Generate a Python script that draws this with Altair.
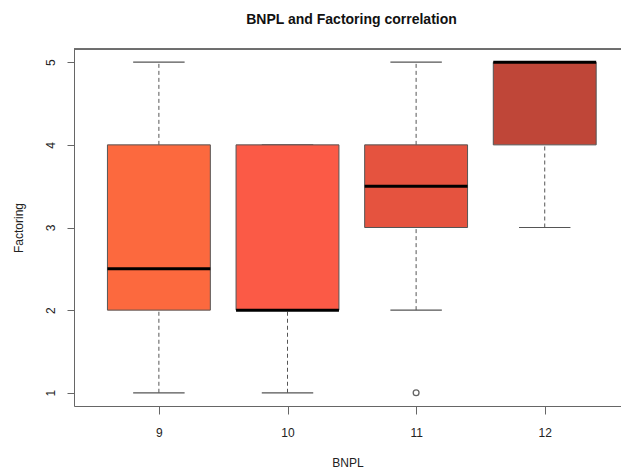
import altair as alt
import pandas as pd

# Data
bnpl = [9, 10, 11, 12]
lower_whisker = [1, 1, 2, 3]
q1 = [2, 2, 3, 4]
median = [2.5, 2, 3.5, 5]
q3 = [4, 4, 4, 5]
upper_whisker = [5, 4, 5, 5]
box_colors = ["#FC693E", "#FB5A46", "#E5533F", "#BF4638"]
outlier_bnpl = [11]
outlier_val = [1]

BOX_HALF = 0.4
CAP_HALF = 0.2

df = pd.DataFrame({
    "BNPL": bnpl,
    "lo": lower_whisker,
    "q1": q1,
    "med": median,
    "q3": q3,
    "hi": upper_whisker,
})
df["grp"] = df["BNPL"].astype(str)
df["box_l"] = df["BNPL"] - BOX_HALF
df["box_r"] = df["BNPL"] + BOX_HALF
df["cap_l"] = df["BNPL"] - CAP_HALF
df["cap_r"] = df["BNPL"] + CAP_HALF

out_df = pd.DataFrame({"BNPL": outlier_bnpl, "val": outlier_val})

W, H = 547, 357
xscale = alt.Scale(domain=[8.34, 12.593], nice=False, zero=False)
yscale = alt.Scale(domain=[0.84, 5.16], nice=False, zero=False)

font = "Liberation Sans"
axis_col = "#666666"
text_col = "#222222"

x_axis = alt.Axis(values=bnpl, title="BNPL", grid=False, tickSize=8,
                  labelPadding=13, labelFontSize=12, labelFont=font,
                  labelColor=text_col, titleFont=font, titleFontSize=12,
                  titleFontWeight="normal", titleColor=text_col,
                  titleY=56, titleBaseline="middle",
                  domainColor=axis_col, tickColor=axis_col, format="d")
y_axis = alt.Axis(values=[1, 2, 3, 4, 5], title="Factoring", grid=False,
                  tickSize=7, labelAngle=270, labelPadding=10,
                  labelFontSize=12, labelFont=font, labelColor=text_col,
                  titleFont=font, titleFontSize=12, titleFontWeight="normal",
                  titleColor=text_col, titleX=-56, titleY=H / 2,
                  titleAngle=270, titleAlign="center", titleBaseline="middle",
                  domainColor=axis_col, tickColor=axis_col, format="d")

base = alt.Chart(df)

whisk_lo = base.mark_rule(color="#555555", strokeDash=[4, 3], strokeWidth=1).encode(
    x=alt.X("BNPL:Q", scale=xscale, axis=x_axis),
    y=alt.Y("lo:Q", scale=yscale, axis=y_axis),
    y2="q1:Q",
)
whisk_hi = base.mark_rule(color="#555555", strokeDash=[4, 3], strokeWidth=1).encode(
    x="BNPL:Q", y="q3:Q", y2="hi:Q",
)
cap_lo = base.mark_rule(color="#555555", strokeWidth=1.2).encode(
    x="cap_l:Q", x2="cap_r:Q", y="lo:Q",
)
cap_hi = base.mark_rule(color="#555555", strokeWidth=1.2).encode(
    x="cap_l:Q", x2="cap_r:Q", y="hi:Q",
)
boxes = base.mark_rect(stroke="#555555", strokeWidth=1).encode(
    x="box_l:Q", x2="box_r:Q", y="q1:Q", y2="q3:Q",
    color=alt.Color("grp:N", scale=alt.Scale(domain=[str(b) for b in bnpl], range=box_colors), legend=None),
)
meds = base.mark_rule(color="black", strokeWidth=3).encode(
    x="box_l:Q", x2="box_r:Q", y="med:Q",
)
outliers = alt.Chart(out_df).mark_point(shape="circle", filled=False, color="#222222",
                                        size=34, strokeWidth=1.3).encode(
    x="BNPL:Q", y="val:Q",
)
top_border = alt.Chart(df).mark_rule(color=axis_col, strokeWidth=1).encode(
    x=alt.value(0), x2=alt.value(W), y=alt.value(0),
)

chart = alt.layer(whisk_lo, whisk_hi, cap_lo, cap_hi, boxes, meds, outliers, top_border).properties(
    width=W, height=H,
    title=alt.TitleParams("BNPL and Factoring correlation", font=font, fontSize=14,
                          fontWeight="bold", color="#111111", anchor="middle",
                          dx=4, offset=22),
    autosize=alt.AutoSizeParams(type="none"),
    padding={"left": 74, "top": 49, "right": 0, "bottom": 66},
).configure_view(stroke=None).configure(background="white")

chart.save("out.html", embed_options={"renderer": "svg", "actions": False})
